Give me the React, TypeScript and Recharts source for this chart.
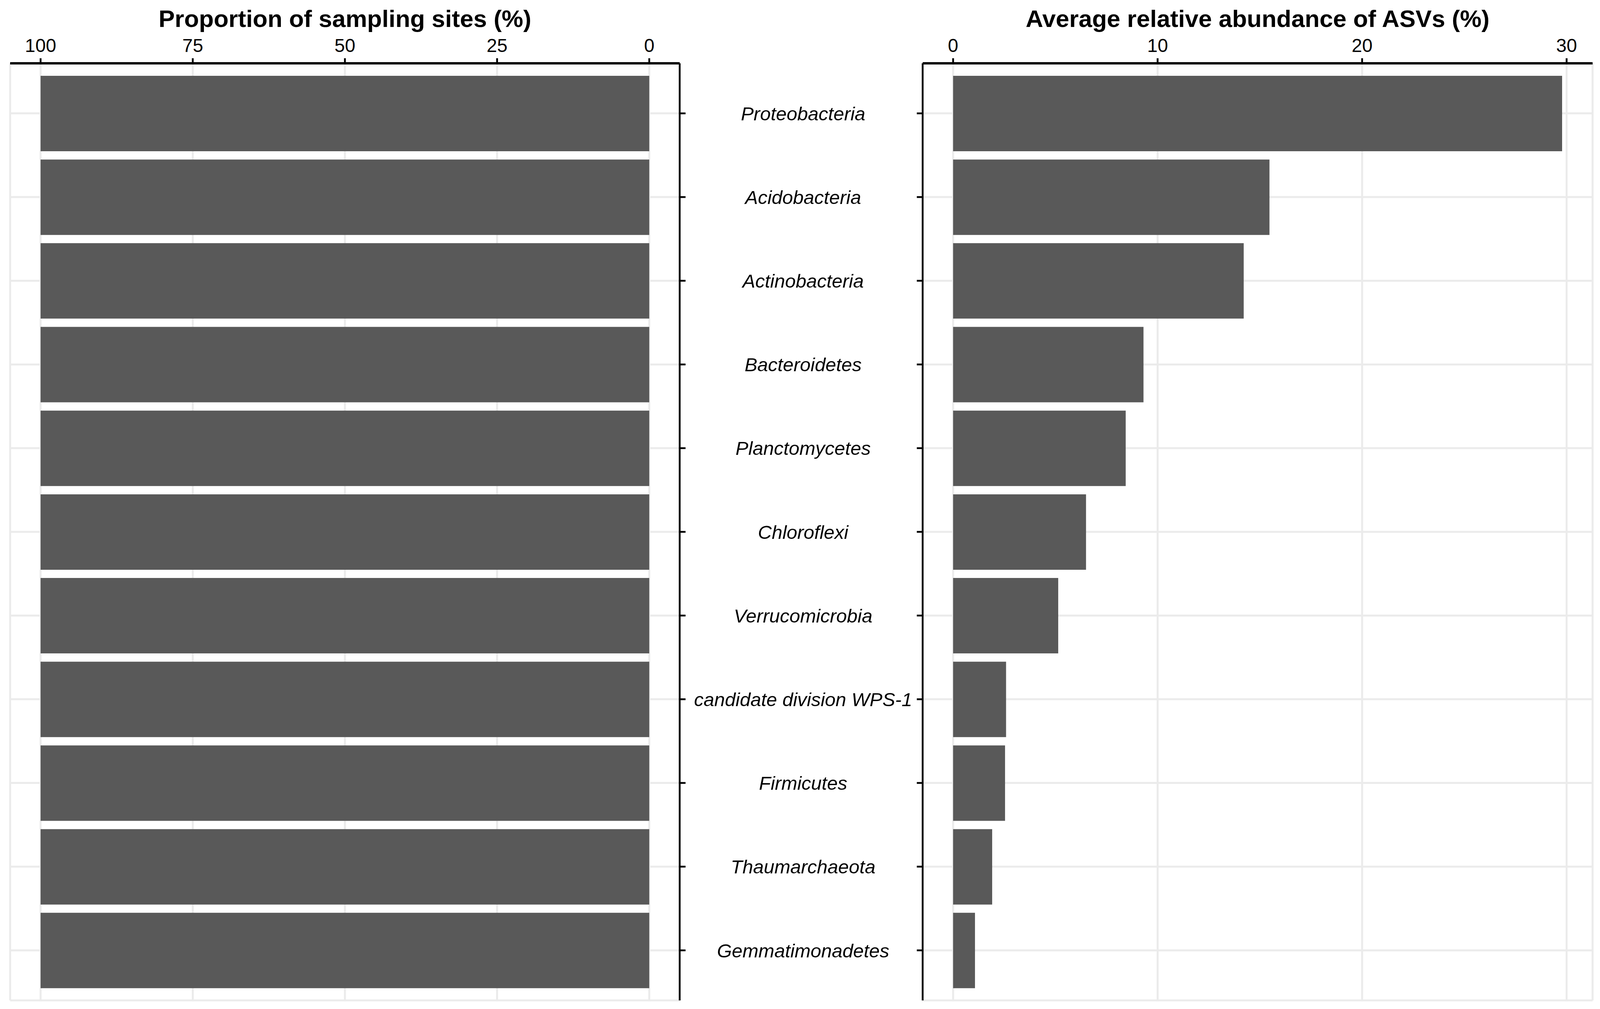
import React from "react"
import { BarChart, Bar, XAxis, YAxis, CartesianGrid, Label } from "recharts"

const phyla = [
  "Proteobacteria",
  "Acidobacteria",
  "Actinobacteria",
  "Bacteroidetes",
  "Planctomycetes",
  "Chloroflexi",
  "Verrucomicrobia",
  "candidate division WPS-1",
  "Firmicutes",
  "Thaumarchaeota",
  "Gemmatimonadetes",
]

const siteProportion = [100, 100, 100, 100, 100, 100, 100, 100, 100, 100, 100]
const abundance = [29.78, 15.47, 14.21, 9.31, 8.44, 6.5, 5.14, 2.59, 2.54, 1.91, 1.07]

const siteTicks = [0, 25, 50, 75, 100]
const abundanceTicks = [0, 10, 20, 30]

const data = phyla.map((name, i) => ({
  name,
  sites: siteProportion[i],
  abundance: abundance[i],
}))

// the browser viewport is 4096 wide, so the horizontal layout is fitted to that
const FONT = "'Liberation Sans', Arial, Helvetica, sans-serif"
const BAR = "#595959"
const GRID = "#EBEBEB"
const WIDTH = 4096
const HEIGHT = 2582
const LEFT_W = 2333
const RIGHT_W = WIDTH - LEFT_W
const LEFT_PLOT_RIGHT = 1740
const LABEL_X = 2056
// extra transparent room so the longest label is not clipped by the left svg
const SPILL = 120

const tickStyle = { fontSize: 48, fill: "#000", fontFamily: FONT }
const titleProps = { fontSize: 62, fontWeight: "bold", fill: "#000", fontFamily: FONT }

function PhylumTick(props: any) {
  const { y, payload } = props
  return (
    <text
      x={LABEL_X}
      y={y}
      dy="0.36em"
      textAnchor="middle"
      fontStyle="italic"
      fontSize={49}
      fontFamily={FONT}
      fill="#000"
    >
      {payload.value}
    </text>
  )
}

export default function App() {
  return (
    <div style={{ position: "absolute", left: 0, top: 0, width: WIDTH, height: HEIGHT, background: "#fff" }}>
      <div style={{ position: "absolute", left: LEFT_W, top: 0 }}>
        <BarChart
          width={RIGHT_W}
          height={HEIGHT}
          data={data}
          layout="vertical"
          margin={{ top: 0, right: 19, bottom: 22, left: 0 }}
        >
          <CartesianGrid stroke={GRID} strokeWidth={5} />
          <XAxis
            type="number"
            dataKey="abundance"
            orientation="top"
            domain={[-1.489, 31.27]}
            allowDataOverflow
            ticks={abundanceTicks}
            height={162}
            tick={tickStyle}
            tickSize={13}
            tickMargin={16}
            tickLine={{ stroke: "#000", strokeWidth: 4.6 }}
            axisLine={{ stroke: "#000", strokeWidth: 6 }}
          >
            <Label value="Average relative abundance of ASVs (%)" position="insideTop" offset={25} {...titleProps} />
          </XAxis>
          <YAxis
            type="category"
            dataKey="name"
            orientation="left"
            width={29}
            padding={{ top: 21, bottom: 21 }}
            tick={() => <g />}
            tickSize={15}
            tickLine={{ stroke: "#000", strokeWidth: 4.6 }}
            axisLine={{ stroke: "#000", strokeWidth: 4.6 }}
            interval={0}
          />
          <Bar dataKey="abundance" fill={BAR} barSize={193} isAnimationActive={false} />
        </BarChart>
      </div>
      <div style={{ position: "absolute", left: 0, top: 0 }}>
        <BarChart
          width={LEFT_W + SPILL}
          height={HEIGHT}
          data={data}
          layout="vertical"
          margin={{ top: 0, right: SPILL, bottom: 22, left: 26 }}
        >
          <CartesianGrid stroke={GRID} strokeWidth={5} />
          <XAxis
            type="number"
            dataKey="sites"
            orientation="top"
            reversed
            domain={[-5, 105]}
            allowDataOverflow
            ticks={siteTicks}
            height={162}
            tick={tickStyle}
            tickSize={13}
            tickMargin={16}
            tickLine={{ stroke: "#000", strokeWidth: 4.6 }}
            axisLine={{ stroke: "#000", strokeWidth: 6 }}
          >
            <Label value="Proportion of sampling sites (%)" position="insideTop" offset={25} {...titleProps} />
          </XAxis>
          <YAxis
            type="category"
            dataKey="name"
            orientation="right"
            width={LEFT_W - LEFT_PLOT_RIGHT}
            padding={{ top: 21, bottom: 21 }}
            tick={<PhylumTick />}
            tickSize={15}
            tickLine={{ stroke: "#000", strokeWidth: 4.6 }}
            axisLine={{ stroke: "#000", strokeWidth: 4.6 }}
            interval={0}
          />
          <Bar dataKey="sites" fill={BAR} barSize={193} isAnimationActive={false} />
        </BarChart>
      </div>
    </div>
  )
}
